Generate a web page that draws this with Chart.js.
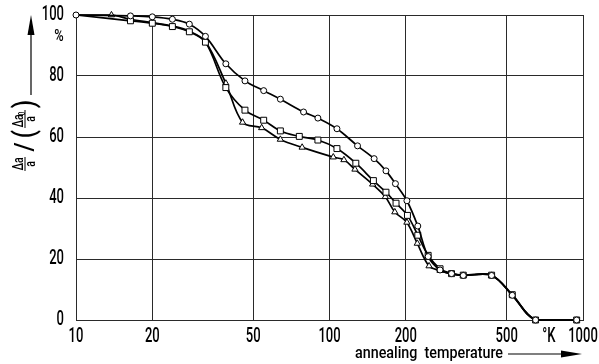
<!DOCTYPE html>
<html lang="en">
<head>
<meta charset="UTF-8">
<title>Annealing temperature</title>
<script src="https://cdn.jsdelivr.net/npm/chart.js@4"></script>
<style>
    body {margin:0; background:#fff}
    #wrap {width:599px; height:364px; position:relative}
</style>
</head>
<body>
<div id="wrap"><canvas id="chart"></canvas></div>
<script>
    // circles (upper curve)
    const circleTemps = [10, 16.4, 20, 24, 28, 32.4, 39, 46.4, 55, 64, 79, 90, 107, 129, 150, 167, 182, 202, 223, 245, 273, 303, 337, 436, 526, 650, 944]
    const circleVals  = [100, 99.7, 99.4, 98.6, 97, 93, 84, 78.4, 75.2, 72.4, 68.2, 66.2, 62.7, 57.1, 52.9, 48.9, 44.7, 39.1, 30.8, 20.8, 16.4, 15.2, 14.6, 14.6, 8.1, 0, 0]

    // squares (middle curve)
    const squareTemps = [10, 16.4, 20, 24, 28, 32.4, 39, 46.4, 55, 64, 76, 90, 107, 127, 149, 167, 183, 203, 223, 245, 273, 303, 337, 436, 526, 650, 944]
    const squareVals  = [100, 98.1, 97.3, 96.2, 94.5, 91.1, 76.2, 68.8, 65.5, 62, 60.2, 59, 56.2, 51.4, 45.7, 41.9, 38.3, 34.3, 27.8, 21.2, 16.8, 15.2, 14.7, 14.7, 8.3, 0, 0]

    // triangles (lower curve)
    const triTemps = [10, 13.8, 16.4, 20, 24, 28, 32.4, 39, 45.4, 54, 64, 78, 103.5, 114, 126, 148, 166, 181, 202, 222, 247, 273, 303, 337, 436, 526, 650, 944]
    const triVals  = [100, 100, 98.6, 97.5, 96.4, 94.7, 91.3, 77.6, 64.8, 63, 59.2, 56.6, 53.4, 52.5, 49.4, 44.5, 40.4, 35.4, 32, 25.1, 17.7, 16.2, 15.1, 14.6, 14.6, 8.1, 0, 0]

    const xTicks  = [10, 20, 50, 100, 200, 500, 734, 1000]
    const xLabels = ["10", "20", "50", "100", "200", "500", "°K", "1000"]
    const yTicks  = [0, 20, 40, 60, 80, 100]

    // temps where a series only carries the line (marker belongs to another curve)
    const squareLineOnly = [10]
    const triLineOnly = [10, 20, 24, 28, 32.4, 303, 526, 650, 944]

    const font = "Roboto, 'DejaVu Sans', sans-serif"

    function pts(t, v) {
        return t.map((x, i) => ({x: x, y: v[i]}))
    }

    function radius(r, skip) {
        return ctx => {
            let p = ctx.raw
            if (p && skip.includes(p.x)) return 0
            return r
        }
    }

    // condensed text: squeeze horizontally, the original uses a narrow DIN face
    function txt(c, s, x, y, size, sx, align, base) {
        c.save()
        c.font = "500 " + size + "px " + font
        c.textAlign = align || "center"
        c.textBaseline = base || "alphabetic"
        c.translate(x, y)
        c.scale(sx, 1)
        c.fillText(s, 0, 0)
        c.restore()
    }

    const titles = {
        id: "titles",
        afterDraw(chart) {
            const c = chart.ctx
            const xs = chart.scales.x, ys = chart.scales.y
            c.save()
            c.fillStyle = "#000"
            c.strokeStyle = "#000"

            // tick labels
            xTicks.forEach((v, i) => {
                txt(c, xLabels[i], xs.getPixelForValue(v), 337, 21, 0.62, "center", "middle")
            })
            yTicks.forEach(v => {
                txt(c, String(v), 64, ys.getPixelForValue(v), 21, 0.62, "right", "middle")
            })
            txt(c, "%", 59, 37, 16, 0.8, "center", "middle")

            // x title + arrow
            c.font = "500 17px " + font
            let w = c.measureText("annealing  temperature").width
            txt(c, "annealing  temperature", 355, 358, 17, 148 / w, "left")
            c.lineWidth = 1.2
            c.beginPath(); c.moveTo(508, 354); c.lineTo(568, 354); c.stroke()
            c.beginPath(); c.moveTo(582, 354); c.lineTo(561, 350.5); c.lineTo(561, 357.5); c.closePath(); c.fill()

            // y title, rotated
            c.translate(25, 172)
            c.rotate(-Math.PI / 2)
            txt(c, "\u0394a", 8, -2, 14, 0.75)
            txt(c, "a", 8, 10, 14, 0.75)
            c.lineWidth = 1
            c.beginPath(); c.moveTo(1, 0); c.lineTo(15, 0); c.stroke()

            txt(c, "/", 25, 1, 26, 0.9, "center", "middle")
            txt(c, "(", 38, 1, 30, 0.8, "center", "middle")
            txt(c, ")", 68, 1, 30, 0.8, "center", "middle")
            txt(c, "\u0394a", 51, -2, 14, 0.75)
            txt(c, "0", 58.5, 0, 9, 0.75)
            txt(c, "a", 53, 10, 14, 0.75)
            c.beginPath(); c.moveTo(44, 0); c.lineTo(62, 0); c.stroke()

            // arrow up
            c.lineWidth = 1.2
            c.beginPath(); c.moveTo(77, 6); c.lineTo(140, 6); c.stroke()
            c.beginPath(); c.moveTo(157, 6); c.lineTo(137, 2.5); c.lineTo(137, 9.5); c.closePath(); c.fill()
            c.restore()
        }
    }

    var chart = new Chart("chart", {
        type: "line",
        data: {
            datasets: [
                {data: pts(circleTemps, circleVals), pointStyle: "circle", pointRadius: 3},
                {data: pts(squareTemps, squareVals), pointStyle: "rect", pointRadius: radius(4.2, squareLineOnly)},
                {data: pts(triTemps, triVals), pointStyle: "triangle", pointRadius: radius(3.6, triLineOnly)}
            ]
        },
        options: {
            responsive: true,
            maintainAspectRatio: false,
            animation: false,
            layout: {padding: {left: 0, right: 16, top: 15, bottom: 0}},
            plugins: {legend: {display: false}, tooltip: {enabled: false}},
            elements: {
                line: {borderColor: "#000", borderWidth: 1.7, tension: 0.35, fill: false},
                point: {backgroundColor: "#fff", borderColor: "#000", borderWidth: 1, hoverRadius: 0}
            },
            datasets: {line: {clip: 8}},
            scales: {
                x: {
                    type: "logarithmic", min: 10, max: 1000,
                    afterBuildTicks: s => { s.ticks = xTicks.map(v => ({value: v})) },
                    afterFit: s => { s.height = 44; s.paddingLeft = 0; s.paddingRight = 0 },
                    ticks: {display: false},
                    grid: {
                        color: ctx => (ctx.tick && ctx.tick.value === 734) ? "rgba(0,0,0,0)" : "#2a2a2a",
                        lineWidth: 1, drawTicks: false
                    },
                    border: {color: "#2a2a2a", width: 1}
                },
                y: {
                    min: 0, max: 100,
                    afterBuildTicks: s => { s.ticks = yTicks.map(v => ({value: v})) },
                    afterFit: s => { s.width = 76; s.paddingTop = 0; s.paddingBottom = 0 },
                    ticks: {display: false},
                    grid: {color: "#2a2a2a", lineWidth: 1, drawTicks: false},
                    border: {color: "#2a2a2a", width: 1}
                }
            }
        },
        plugins: [titles]
    });
</script>
</body>
</html>
